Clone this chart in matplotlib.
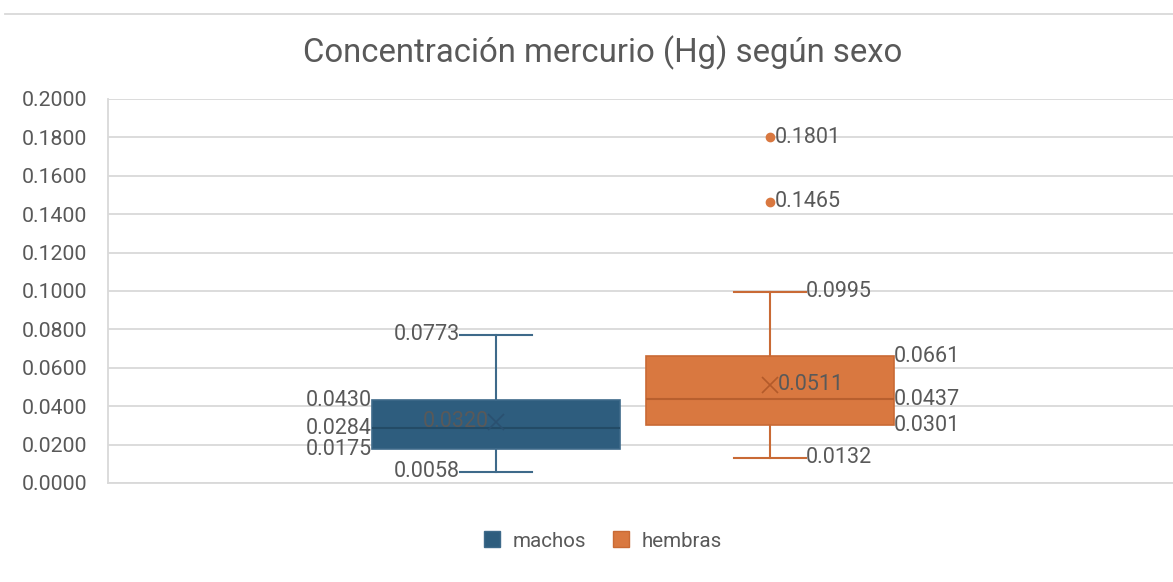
import matplotlib
matplotlib.use("Agg")
import matplotlib.pyplot as plt
from matplotlib.patches import Patch

plt.rcParams['font.family'] = ['Roboto', 'DejaVu Sans']

# ---- data ----
series = ["machos", "hembras"]
whislo = [0.0058, 0.0132]
q1 = [0.0175, 0.0301]
median = [0.0284, 0.0437]
q3 = [0.0430, 0.0661]
whishi = [0.0773, 0.0995]
means = [0.0320, 0.0511]
fliers = [[], [0.1465, 0.1801]]
yticks = [0.0, 0.02, 0.04, 0.06, 0.08, 0.10, 0.12, 0.14, 0.16, 0.18, 0.20]

# ---- style ----
fill = ["#2E5D7E", "#D97840"]
edge = ["#3E6A8A", "#C96A35"]
medc = ["#234B66", "#B85F2E"]
meanc = ["#2A5070", "#B35A2A"]
txt = "#595959"
grid = "#D9D9D9"

W, H = 1173, 582
fig = plt.figure(figsize=(W / 100, H / 100), dpi=100)
L, R, T, B = 108, 1173, 99, 483
ax = fig.add_axes([L / W, 1 - B / H, (R - L) / W, (B - T) / H])
positions = [(496 - L) / (R - L), (770 - L) / (R - L)]
bw = 248 / (R - L)
capw = 72 / (R - L)

stats = []
for i in range(2):
    stats.append(dict(med=median[i], q1=q1[i], q3=q3[i], whislo=whislo[i],
                      whishi=whishi[i], mean=means[i], fliers=fliers[i], label=series[i]))

for i in range(2):
    ax.bxp([stats[i]], positions=[positions[i]], widths=bw, patch_artist=True,
           showmeans=True, showfliers=True, capwidths=capw,
           boxprops=dict(facecolor=fill[i], edgecolor=edge[i], linewidth=1.2),
           whiskerprops=dict(color=edge[i], linewidth=1.5),
           capprops=dict(color=edge[i], linewidth=1.5),
           medianprops=dict(color=medc[i], linewidth=1.5),
           meanprops=dict(marker='x', markeredgecolor=meanc[i], markersize=12, markeredgewidth=1.2),
           flierprops=dict(marker='o', markerfacecolor=fill[i], markeredgecolor=fill[i], markersize=6),
           zorder=3)

fs = 15.5
ax.set_xlim(0, 1)
ax.set_ylim(0, 0.2)
ax.set_yticks(yticks)
ax.set_yticklabels([f"{v:.4f}" for v in yticks], color=txt, fontsize=15.3)
ax.tick_params(axis='y', length=0, pad=14.7)
ax.set_xticks([])
ax.grid(axis='y', color=grid, linewidth=1.3, zorder=0)
ax.set_axisbelow(True)
for s in ['top', 'right']:
    ax.spines[s].set_visible(False)
ax.spines['left'].set_color(grid)
ax.spines['left'].set_linewidth(1.3)
ax.spines['bottom'].set_color(grid)
ax.spines['bottom'].set_linewidth(1.3)

# machos labels (left side)
i = 0
xl = positions[i] - bw / 2
xc = positions[i] - capw / 2
for v in (q3[i], median[i], q1[i]):
    ax.text(xl, v, f"{v:.4f}", ha='right', va='center', color=txt, fontsize=fs, zorder=5)
for v in (whishi[i], whislo[i]):
    ax.text(xc, v, f"{v:.4f}", ha='right', va='center', color=txt, fontsize=fs, zorder=5)
ax.text(positions[i] - 0.007, means[i], f"{means[i]:.4f}", ha='right', va='center', color=txt, fontsize=fs, zorder=5)

# hembras labels (right side)
i = 1
xr = positions[i] + bw / 2
xc = positions[i] + capw / 2
for v in (q3[i], median[i], q1[i]):
    ax.text(xr, v, f"{v:.4f}", ha='left', va='center', color=txt, fontsize=fs, zorder=5)
for v in (whishi[i], whislo[i]):
    ax.text(xc, v, f"{v:.4f}", ha='left', va='center', color=txt, fontsize=fs, zorder=5)
ax.text(positions[i] + 0.007, means[i], f"{means[i]:.4f}", ha='left', va='center', color=txt, fontsize=fs, zorder=5)
for v in fliers[i]:
    ax.text(positions[i] + 0.004, v, f"{v:.4f}", ha='left', va='center', color=txt, fontsize=fs, zorder=5)

fig.text(602.5 / W, 1 - 53 / H, "Concentración mercurio (Hg) según sexo", ha='center', va='center',
         color=txt, fontsize=23.7)

# top border line
fig.add_artist(plt.Line2D([5 / W, 1], [1 - 14 / H, 1 - 14 / H], color=grid, linewidth=1.3))

handles = [Patch(facecolor=fill[k], edgecolor=edge[k], label=series[k]) for k in range(2)]
fig.legend(handles=handles, loc='center', bbox_to_anchor=(603 / W, 1 - 541 / H), ncol=2,
           frameon=False, fontsize=14.8, labelcolor=txt, handlelength=0.8, handleheight=0.8,
           handletextpad=0.6, columnspacing=1.3)

fig.savefig("out.png", dpi=100)
